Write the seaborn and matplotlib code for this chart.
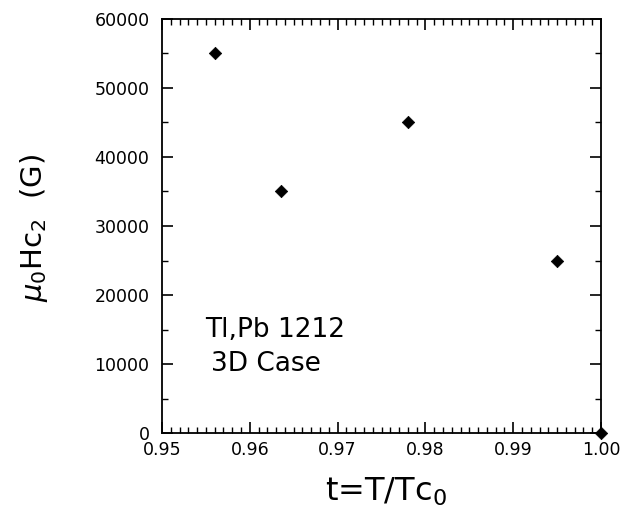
import matplotlib
matplotlib.use("Agg")
import matplotlib.pyplot as plt
import seaborn as sns
import pandas as pd
from matplotlib.ticker import MultipleLocator

t_values = [0.956, 0.9636, 0.978, 0.995, 1.000]
hc2_values = [55000, 35000, 45000, 25000, 0]

sns.set_theme(style="ticks")
plt.rcParams['font.family'] = ['DejaVu Sans']
plt.rcParams['text.color'] = 'black'
plt.rcParams['axes.labelcolor'] = 'black'
plt.rcParams['xtick.color'] = 'black'
plt.rcParams['ytick.color'] = 'black'

df = pd.DataFrame({"t": t_values, "hc2": hc2_values})

fig = plt.figure(figsize=(6.21, 5.12), dpi=100)
ax = fig.add_axes([162/621, 1-433/512, (601-162)/621, (433-19)/512])
sns.scatterplot(data=df, x="t", y="hc2", marker="D", s=40, color="black",
                edgecolor="black", ax=ax, clip_on=False, zorder=5)

ax.set_xlim(0.95, 1.00)
ax.set_ylim(0, 60000)
ax.xaxis.set_major_locator(MultipleLocator(0.01))
ax.xaxis.set_minor_locator(MultipleLocator(0.001))
ax.yaxis.set_major_locator(MultipleLocator(10000))
ax.yaxis.set_minor_locator(MultipleLocator(5000))
ax.xaxis.set_major_formatter(matplotlib.ticker.FormatStrFormatter('%.2f'))
ax.tick_params(which='both', direction='in', top=True, right=True, color='black')
ax.tick_params(which='major', length=8, width=1.2, labelsize=12.5)
ax.tick_params(axis='y', which='major', pad=9)
ax.tick_params(axis='x', which='major', pad=6)
ax.tick_params(which='minor', length=4, width=1.0)
for sp in ax.spines.values():
    sp.set_color('black')
    sp.set_linewidth(1.3)

ax.set_xlabel(r't=T/Tc$_0$', fontsize=23)
ax.xaxis.set_label_coords((386-162)/439, -(476-433)/414)
ax.set_ylabel(r'$\mu_0$Hc$_2$  (G)', fontsize=21)
ax.yaxis.set_label_coords(-(162-50)/439, (433-228)/414)

ax.text(0.9549, 15000, 'Tl,Pb 1212', fontsize=19, va='center', ha='left')
ax.text(0.9556, 10000, '3D Case', fontsize=19, va='center', ha='left')

fig.savefig("out.png", dpi=100)
